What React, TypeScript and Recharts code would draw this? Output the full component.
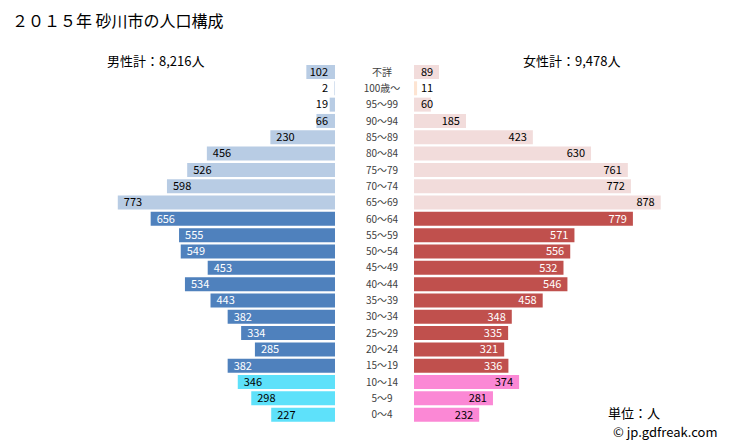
import React from 'react';
import { BarChart, Bar, XAxis, YAxis, Cell, LabelList } from 'recharts';

const ages = ['不詳', '100歳～', '95～99', '90～94', '85～89', '80～84', '75～79', '70～74', '65～69', '60～64', '55～59', '50～54', '45～49', '40～44', '35～39', '30～34', '25～29', '20～24', '15～19', '10～14', '5～9', '0～4'];
const male = [102, 2, 19, 66, 230, 456, 526, 598, 773, 656, 555, 549, 453, 534, 443, 382, 334, 285, 382, 346, 298, 227];
const female = [89, 11, 60, 185, 423, 630, 761, 772, 878, 779, 571, 556, 532, 546, 458, 348, 335, 321, 336, 374, 281, 232];

const title = '２０１５年 砂川市の人口構成';
const maleTotal = '男性計：8,216人';
const femaleTotal = '女性計：9,478人';
const unitText = '単位：人';
const credit = '© jp.gdfreak.com';

const data = ages.map((a, i) => ({ age: a, male: male[i], female: female[i] }));

const group = (i: number) => (i <= 8 ? 'old' : i <= 18 ? 'work' : 'child');
const maleColor = (i: number) => ({ old: '#b8cce4', work: '#4f81bd', child: '#5ee1fa' } as any)[group(i)];
const femaleColor = (i: number) => (i === 1 ? '#fde4d2' : ({ old: '#f2dcdb', work: '#c0504d', child: '#fb88d5' } as any)[group(i)]);
const textColor = (i: number) => (group(i) === 'work' ? '#ffffff' : '#000000');

const FONT = '"Noto Sans CJK JP", "Noto Sans", sans-serif';
const PLOT_W = 281;
const PLOT_H = 359;
const TOP = 63.5;
const DIGIT_W = 6.1;

const MaleLabel = (props: any) => {
  const { x, y, width, height, value, index } = props;
  const left = Math.min(x, x + width);
  const w = String(value).length * DIGIT_W;
  const limit = PLOT_W - 7;
  const bw = Math.abs(width);
  let tx = left + 6;
  let anchor: any = 'start';
  if (tx + w > limit) {
    tx = limit;
    anchor = 'end';
  }
  return (
    <text x={tx} y={y + height / 2} dy="0.35em" textAnchor={anchor} fontSize={11} fontFamily={FONT} fill={bw > w + 8 ? textColor(index) : '#000'}>
      {value}
    </text>
  );
};

const FemaleLabel = (props: any) => {
  const { x, y, width, height, value, index } = props;
  const right = Math.max(x, x + width);
  const w = String(value).length * DIGIT_W;
  let tx = right - 6;
  let anchor: any = 'end';
  if (tx - w < 7) {
    tx = 7;
    anchor = 'start';
  }
  return (
    <text x={tx} y={y + height / 2} dy="0.35em" textAnchor={anchor} fontSize={11} fontFamily={FONT} fill={Math.abs(width) > w + 8 ? textColor(index) : '#000'}>
      {value}
    </text>
  );
};

export default function App() {
  return (
    <div style={{ position: 'fixed', left: 0, top: 0, width: 729, height: 445, background: '#fff', fontFamily: FONT, overflow: 'hidden' }}>
      <div style={{ position: 'absolute', left: 12, top: 9, fontSize: 16, color: '#000', whiteSpace: 'nowrap', lineHeight: '22px' }}>{title}</div>
      <div style={{ position: 'absolute', left: 107, top: 52, fontSize: 13, color: '#000', whiteSpace: 'nowrap', lineHeight: '18px' }}>{maleTotal}</div>
      <div style={{ position: 'absolute', left: 523, top: 52, fontSize: 13, color: '#000', whiteSpace: 'nowrap', lineHeight: '18px' }}>{femaleTotal}</div>
      <div style={{ position: 'absolute', left: 608, top: 404, fontSize: 13, color: '#000', whiteSpace: 'nowrap', lineHeight: '18px' }}>{unitText}</div>
      <div style={{ position: 'absolute', left: 613, top: 423, fontSize: 13, color: '#000', whiteSpace: 'nowrap', lineHeight: '18px' }}>{credit}</div>

      <div style={{ position: 'absolute', left: 335 - PLOT_W, top: TOP }}>
        <BarChart width={PLOT_W} height={PLOT_H} data={data} layout="vertical" margin={{ top: 0, right: 0, bottom: 0, left: 0 }} barCategoryGap={1}>
          <XAxis type="number" domain={[0, 1000]} reversed hide />
          <YAxis type="category" dataKey="age" hide />
          <Bar dataKey="male" isAnimationActive={false}>
            {data.map((d, i) => (
              <Cell key={i} fill={maleColor(i)} />
            ))}
            <LabelList dataKey="male" content={MaleLabel} />
          </Bar>
        </BarChart>
      </div>

      <div style={{ position: 'absolute', left: 335, top: TOP, width: 79, height: PLOT_H }}>
        {ages.map((a, i) => (
          <div key={i} style={{ position: 'absolute', left: 0, width: 94, textAlign: 'center', top: (i + 0.5) * (PLOT_H / ages.length) - 8, height: 16, lineHeight: '16px', fontSize: 10, color: '#404040', whiteSpace: 'nowrap' }}>
            {a}
          </div>
        ))}
      </div>

      <div style={{ position: 'absolute', left: 414, top: TOP }}>
        <BarChart width={PLOT_W} height={PLOT_H} data={data} layout="vertical" margin={{ top: 0, right: 0, bottom: 0, left: 0 }} barCategoryGap={1}>
          <XAxis type="number" domain={[0, 1000]} hide />
          <YAxis type="category" dataKey="age" hide />
          <Bar dataKey="female" isAnimationActive={false}>
            {data.map((d, i) => (
              <Cell key={i} fill={femaleColor(i)} />
            ))}
            <LabelList dataKey="female" content={FemaleLabel} />
          </Bar>
        </BarChart>
      </div>
    </div>
  );
}
